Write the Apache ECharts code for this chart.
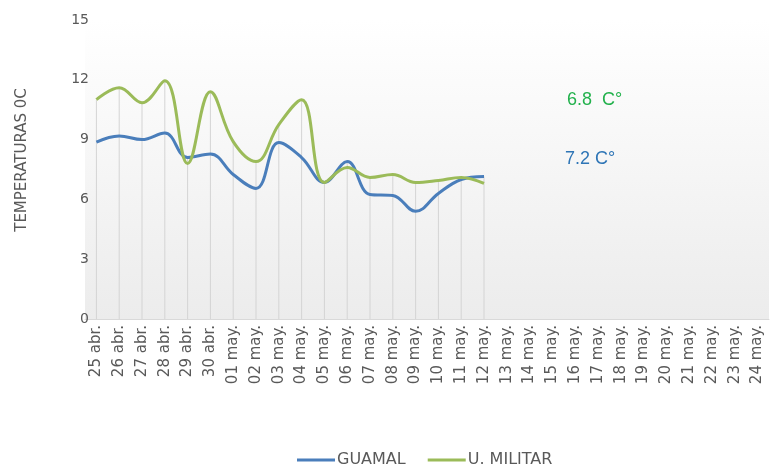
<!DOCTYPE html>
<html>
<head>
<meta charset="utf-8">
<script src="https://cdn.jsdelivr.net/npm/echarts@6/dist/echarts.min.js"></script>
<style>html,body{margin:0;padding:0;background:#fff;}#c{width:770px;height:468px;}</style>
</head>
<body>
<div id="c"></div>
<script>
var categories = ['25 abr.','26 abr.','27 abr.','28 abr.','29 abr.','30 abr.','01 may.','02 may.','03 may.','04 may.','05 may.','06 may.','07 may.','08 may.','09 may.','10 may.','11 may.','12 may.','13 may.','14 may.','15 may.','16 may.','17 may.','18 may.','19 may.','20 may.','21 may.','22 may.','23 may.','24 may.'];
var guamal = [8.87, 9.18, 9.0, 9.33, 8.1, 8.28, 7.25, 6.55, 8.85, 8.1, 6.85, 7.9, 6.25, 6.2, 5.4, 6.3, 7.0, 7.15];
var uMilitar = [11.0, 11.6, 10.85, 11.95, 7.8, 11.4, 8.9, 7.9, 9.75, 11.0, 6.85, 7.6, 7.1, 7.25, 6.85, 6.95, 7.1, 6.8];
var yTicks = [0, 3, 6, 9, 12, 15];
var yAxisTitle = 'TEMPERATURAS 0C';
var annotations = ['6.8  C°', '7.2 C°'];

var dropLines = guamal.map(function (v, i) { return Math.max(v, uMilitar[i]); });
var font = 'DejaVu Sans, sans-serif';
var font2 = 'Liberation Sans, Arial, sans-serif';

var chart = echarts.init(document.getElementById('c'));
chart.setOption({
  animation: false,
  backgroundColor: '#ffffff',
  grid: {
    left: 85, right: 1, top: 20, bottom: 149,
    show: true, borderWidth: 0,
    backgroundColor: new echarts.graphic.LinearGradient(0, 0, 0, 1, [
      {offset: 0, color: '#ffffff'},
      {offset: 1, color: '#ececec'}
    ])
  },
  legend: {
    data: ['GUAMAL', 'U. MILITAR'],
    top: 452, left: 297, padding: 0,
    icon: 'rect', itemWidth: 38, itemHeight: 3, itemGap: 22,
    textStyle: {color: '#595959', fontSize: 16, fontFamily: font, padding: [0, 0, 0, -3]}
  },
  xAxis: {
    type: 'category',
    data: categories,
    boundaryGap: true,
    axisLine: {show: true, lineStyle: {color: '#d9d9d9', width: 1}},
    axisTick: {show: false},
    axisLabel: {rotate: 90, interval: 0, color: '#595959', fontSize: 15, fontFamily: font, margin: 6}
  },
  yAxis: {
    type: 'value',
    min: yTicks[0], max: yTicks[yTicks.length - 1], interval: 3,
    axisLine: {show: false},
    axisTick: {show: false},
    splitLine: {show: false},
    axisLabel: {color: '#595959', fontSize: 14, fontFamily: font, margin: -4}
  },
  series: [
    {
      name: 'drop', type: 'bar', data: dropLines, barWidth: 1,
      itemStyle: {color: '#d4d4d4'}, silent: true, z: 1
    },
    {
      name: 'GUAMAL', type: 'line', data: guamal, smooth: 0.4,
      showSymbol: false, lineStyle: {color: '#4a7ebb', width: 3}, itemStyle: {color: '#4a7ebb'}, z: 3
    },
    {
      name: 'U. MILITAR', type: 'line', data: uMilitar, smooth: 0.4,
      showSymbol: false, lineStyle: {color: '#9bbb59', width: 3}, itemStyle: {color: '#9bbb59'}, z: 4
    }
  ],
  graphic: [
    {type: 'text', x: 22, y: 160, rotation: Math.PI / 2,
     style: {text: yAxisTitle, fill: '#595959', font: '15px ' + font, align: 'center', verticalAlign: 'middle'}},
    {type: 'text', left: 567, top: 91, style: {text: annotations[0], fill: '#22b14c', font: '18px ' + font2}},
    {type: 'text', left: 565, top: 150, style: {text: annotations[1], fill: '#2e75b6', font: '18px ' + font2}}
  ]
});
</script>
</body>
</html>
